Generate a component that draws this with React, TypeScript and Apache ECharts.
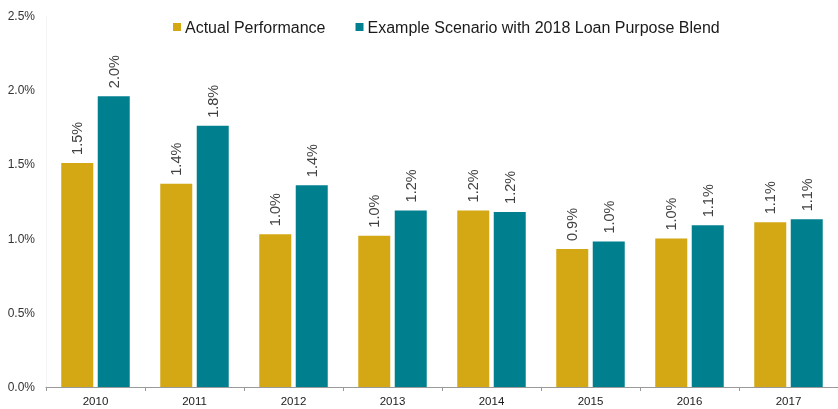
import React, { useEffect, useRef } from "react";
import * as echarts from "echarts";

const categories = ["2010", "2011", "2012", "2013", "2014", "2015", "2016", "2017"];
const actualPerformance = [1.51, 1.37, 1.03, 1.02, 1.19, 0.93, 1.0, 1.11];
const exampleScenario = [1.96, 1.76, 1.36, 1.19, 1.18, 0.98, 1.09, 1.13];
const seriesNames = ["Actual Performance", "Example Scenario with 2018 Loan Purpose Blend"];
const colors = ["#D4A814", "#00808F"];

export default function App() {
  const ref = useRef<HTMLDivElement>(null);
  useEffect(() => {
    if (!ref.current) return;
    const chart = echarts.init(ref.current, null, { renderer: "svg" });
    const font = "Liberation Sans, Arial, sans-serif";
    const label = {
      show: true,
      position: "top",
      rotate: 90,
      align: "left",
      verticalAlign: "middle",
      distance: 8,
      color: "#404040",
      fontSize: 14.5,
      fontFamily: font,
      formatter: (p: any) => p.value.toFixed(1) + "%",
    };
    chart.setOption({
      animation: false,
      color: colors,
      textStyle: { fontFamily: font },
      legend: {
        top: 14,
        left: 168,
        itemWidth: 8,
        itemHeight: 8,
        itemGap: 30,
        icon: "rect",
        textStyle: { fontSize: 16, color: "#1a1a1a", fontFamily: font, padding: [2, 0, 0, -1] },
        data: seriesNames,
      },
      grid: { left: 46, top: 16, width: 794, height: 371 },
      xAxis: {
        type: "category",
        data: categories,
        axisLine: { lineStyle: { color: "#9a9a9a" } },
        axisTick: { show: true, length: 4, lineStyle: { color: "#9a9a9a" } },
        axisLabel: { color: "#1a1a1a", fontSize: 11.5, margin: 8, fontFamily: font },
      },
      yAxis: {
        type: "value",
        min: 0,
        max: 2.5,
        interval: 0.5,
        splitLine: { show: false },
        axisLine: { show: true, lineStyle: { color: "#f4f4f4" } },
        axisTick: { show: false },
        axisLabel: {
          color: "#333",
          fontSize: 12,
          margin: 11,
          fontFamily: font,
          formatter: (v: number) => v.toFixed(1) + "%",
        },
      },
      series: [
        {
          name: seriesNames[0],
          type: "bar",
          data: actualPerformance,
          barWidth: 32,
          barGap: "14%",
          label,
        },
        {
          name: seriesNames[1],
          type: "bar",
          data: exampleScenario,
          barWidth: 32,
          label,
        },
      ],
    });
    return () => chart.dispose();
  }, []);
  return <div ref={ref} style={{ position: "fixed", left: 0, top: 0, width: 838, height: 409 }} />;
}
